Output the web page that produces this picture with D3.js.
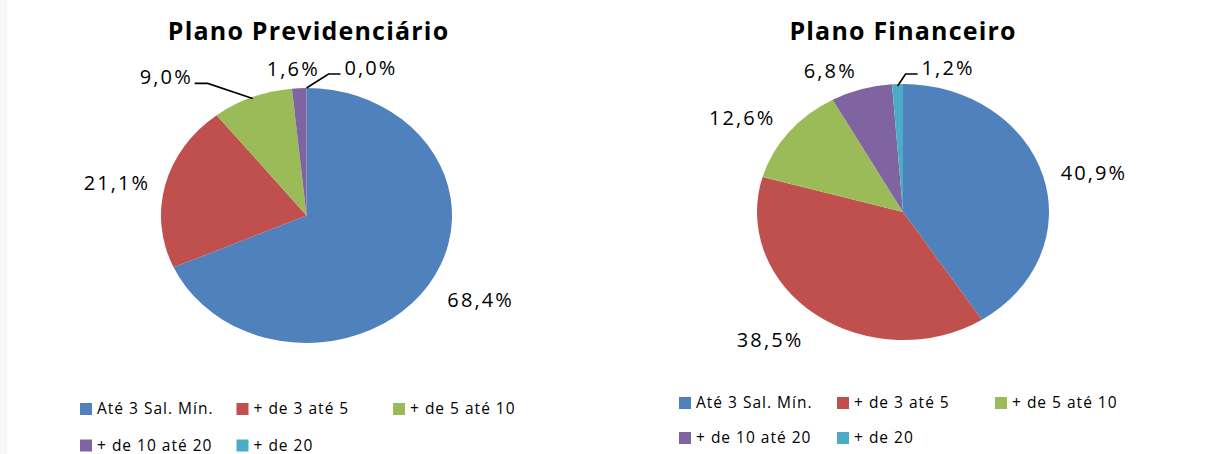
<!DOCTYPE html>
<html>
<head>
<meta charset="utf-8">
<script src="https://cdn.jsdelivr.net/npm/d3@7"></script>
<style>
  html, body { margin: 0; padding: 0; background: #ffffff; }
  svg { display: block; }
</style>
</head>
<body>
<svg id="chart" width="1217" height="454"></svg>
<script>
// Salary bands shared by both plans
const categories = ["Até 3 Sal. Mín.", "+ de 3 até 5", "+ de 5 até 10", "+ de 10 até 20", "+ de 20"];
const titles = ["Plano Previdenciário", "Plano Financeiro"];
// Share of members per band (%)
const previdenciarioValues = [68.4, 21.1, 9.0, 1.6, 0.0];
const financeiroValues = [40.9, 38.5, 12.6, 6.8, 1.2];
const sliceColors = ["#4F81BD", "#C0504D", "#9BBB59", "#8064A2", "#4BACC6"];

const W = 1217, H = 454;
const svg = d3.select("#chart");

svg.append("rect").attr("width", W).attr("height", H).attr("fill", "#ffffff");
svg.append("rect").attr("width", 7).attr("height", H).attr("fill", "#f8f7f5");

const fmt = v => d3.format(".1f")(v).replace(".", ",") + "%";
const color = d3.scaleOrdinal().domain(categories).range(sliceColors);

const LABEL_SIZE = 20, LABEL_SPACING = 2.1;
const LEGEND_SIZE = 15.5, LEGEND_SPACING = 1.0;

// Layout for each pie: centre, ellipse radii, label placement and legend grid
const charts = [
  {
    title: titles[0], values: previdenciarioValues,
    cx: 306.5, cy: 215.5, rx: 145.5, ry: 127.5, titleX: 308,
    labels: [
      { k: 1.36, da: -4 },
      { k: 1.334, da: -3 },
      { leader: { k: 0.99, elbow: [-45, -15], run: -13 } },
      { k: 1.152, da: -2 },
      { leader: { k: 1.0, elbow: [22, -14], run: 12 } }
    ],
    legend: { x: 80, y: 409, dx: 156.5, dy: 36.5 }
  },
  {
    title: titles[1], values: financeiroValues,
    cx: 903, cy: 212, rx: 146, ry: 128, titleX: 902.5,
    labels: [
      { k: 1.336, da: 3.2 },
      { k: 1.357, da: 6 },
      { k: 1.33, da: -5 },
      { k: 1.215, da: -8 },
      { leader: { k: 0.985, elbow: [8, -12], run: 12 } }
    ],
    legend: { x: 679, y: 403, dx: 158, dy: 35 }
  }
];

const pie = d3.pie().sort(null).value(d => d);
const toRad = deg => deg * Math.PI / 180;

charts.forEach(c => {
  const arcs = pie(c.values);
  const g = svg.append("g");

  // Title
  g.append("text")
    .attr("x", c.titleX + 0.6).attr("y", 40)
    .attr("text-anchor", "middle")
    .attr("font-family", "'Open Sans', sans-serif")
    .attr("font-weight", "bold")
    .attr("font-size", 25)
    .attr("letter-spacing", 1.2)
    .attr("fill", "#000")
    .text(c.title);

  // Slices: circular arcs stretched horizontally into an ellipse
  const arc = d3.arc().innerRadius(0).outerRadius(c.ry);
  g.append("g")
    .attr("transform", `translate(${c.cx},${c.cy}) scale(${c.rx / c.ry},1)`)
    .selectAll("path")
    .data(arcs)
    .join("path")
    .attr("d", arc)
    .attr("fill", (d, i) => color(categories[i]));

  // Point on the ellipse at angle a (clockwise from 12 o'clock), radius factor k
  const at = (a, k) => [c.cx + k * c.rx * Math.sin(a), c.cy - k * c.ry * Math.cos(a)];

  arcs.forEach((d, i) => {
    const cfg = c.labels[i];
    const mid = (d.startAngle + d.endAngle) / 2;
    const txt = fmt(d.data);
    if (cfg.leader) {
      const L = cfg.leader;
      const p0 = at(mid, L.k);
      const p1 = [p0[0] + L.elbow[0], p0[1] + L.elbow[1]];
      const p2 = [p1[0] + L.run, p1[1]];
      g.append("path")
        .attr("d", d3.line()([p0, p1, p2]))
        .attr("fill", "none")
        .attr("stroke", "#000")
        .attr("stroke-width", 1.6);
      g.append("text")
        .attr("x", p2[0] + (L.run > 0 ? 4 : -4 + LABEL_SPACING))
        .attr("y", p2[1] + 1)
        .attr("text-anchor", L.run > 0 ? "start" : "end")
        .attr("font-family", "'Open Sans', sans-serif")
        .attr("font-size", LABEL_SIZE)
        .attr("letter-spacing", LABEL_SPACING)
        .attr("fill", "#000")
        .text(txt);
    } else {
      const p = at(mid + toRad(cfg.da), cfg.k);
      g.append("text")
        .attr("x", p[0] + LABEL_SPACING / 2).attr("y", p[1])
        .attr("dy", "0.35em")
        .attr("text-anchor", "middle")
        .attr("font-family", "'Open Sans', sans-serif")
        .attr("font-size", LABEL_SIZE)
        .attr("letter-spacing", LABEL_SPACING)
        .attr("fill", "#000")
        .text(txt);
    }
  });

  // Legend: three columns, two rows
  const lg = g.append("g");
  categories.forEach((name, i) => {
    const col = i % 3, row = Math.floor(i / 3);
    const x = c.legend.x + col * c.legend.dx;
    const y = c.legend.y + row * c.legend.dy;
    lg.append("rect")
      .attr("x", x).attr("y", y - 6)
      .attr("width", 12).attr("height", 12)
      .attr("fill", color(name));
    lg.append("text")
      .attr("x", x + 17).attr("y", y + 5)
      .attr("font-family", "'Open Sans', sans-serif")
      .attr("font-size", LEGEND_SIZE)
      .attr("letter-spacing", LEGEND_SPACING)
      .attr("fill", "#000")
      .text(name);
  });
});
</script>
</body>
</html>
